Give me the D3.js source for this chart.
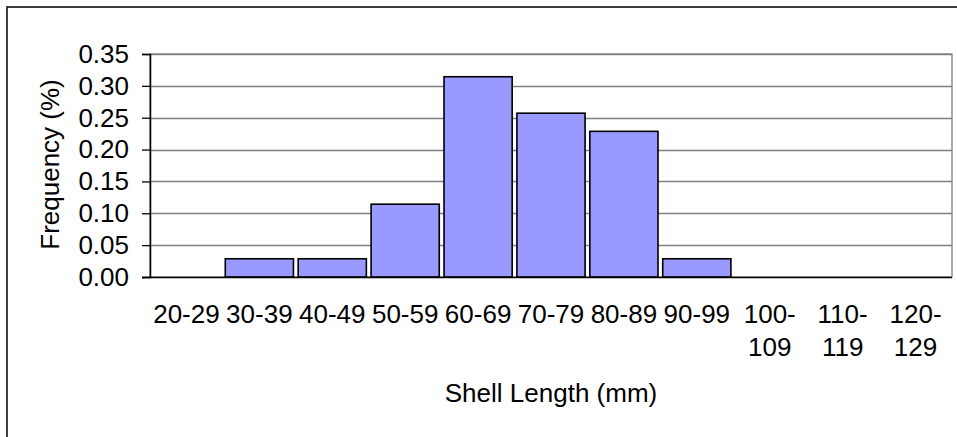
<!DOCTYPE html>
<html>
<head>
<meta charset="utf-8">
<script src="https://cdn.jsdelivr.net/npm/d3@7"></script>
<style>
  html, body { margin: 0; padding: 0; background: #fff; }
  svg { display: block; }
  text { font-family: "Liberation Sans", Arial, sans-serif; fill: #000; }
</style>
</head>
<body>
<script>
// Shell length classes (mm) and the share of shells in each class
const categories = ["20-29", "30-39", "40-49", "50-59", "60-69", "70-79", "80-89", "90-99", "100-109", "110-119", "120-129"];
const frequency  = [0, 0.0286, 0.0286, 0.1143, 0.3143, 0.2571, 0.2286, 0.0286, 0, 0, 0];
const yTicks     = [0, 0.05, 0.10, 0.15, 0.20, 0.25, 0.30, 0.35];
const xTitle = "Shell Length (mm)";
const yTitle = "Frequency (%)";

const W = 957, H = 437;
const plot = { left: 150, right: 952, top: 54, bottom: 277 };
const FONT = "Liberation Sans, Arial, sans-serif";

const svg = d3.select("body").append("svg")
  .attr("width", W).attr("height", H);

// chart frame (runs off the right and bottom edges)
svg.append("rect")
  .attr("x", 7).attr("y", 7)
  .attr("width", W + 20).attr("height", H + 20)
  .attr("fill", "#fff").attr("stroke", "#000").attr("stroke-width", 1.5);

const x = d3.scaleBand()
  .domain(categories)
  .range([plot.left, plot.right])
  .paddingInner(0.065)
  .paddingOuter(0.0325);

const y = d3.scaleLinear()
  .domain([0, 0.35])
  .range([plot.bottom, plot.top]);

// plot area border
svg.append("rect")
  .attr("x", plot.left).attr("y", plot.top)
  .attr("width", plot.right - plot.left).attr("height", plot.bottom - plot.top)
  .attr("fill", "none").attr("stroke", "#808080").attr("stroke-width", 1.3);

// horizontal gridlines
svg.append("g").selectAll("line")
  .data(yTicks.filter(d => d > 0))
  .join("line")
  .attr("x1", plot.left).attr("x2", plot.right)
  .attr("y1", d => Math.round(y(d)) + 0.5).attr("y2", d => Math.round(y(d)) + 0.5)
  .attr("stroke", "#808080").attr("stroke-width", 1.3);

// bars
svg.append("g").selectAll("rect")
  .data(categories.map((c, i) => ({ c, v: frequency[i] })).filter(d => d.v > 0))
  .join("rect")
  .attr("x", d => x(d.c))
  .attr("y", d => y(d.v))
  .attr("width", x.bandwidth())
  .attr("height", d => y(0) - y(d.v))
  .attr("fill", "#9999FF")
  .attr("stroke", "#000")
  .attr("stroke-width", 1.6);

// y axis
const yAxis = svg.append("g")
  .attr("transform", `translate(${plot.left},0)`)
  .call(d3.axisLeft(y).tickValues(yTicks).tickFormat(d3.format(".2f")).tickSize(8).tickPadding(13));
yAxis.select(".domain").attr("stroke", "#000").attr("stroke-width", 1.5);
yAxis.selectAll(".tick line").attr("stroke", "#000").attr("stroke-width", 1.3);
yAxis.selectAll(".tick text")
  .attr("font-size", 26)
  .attr("font-family", FONT)
  .attr("fill", "#000");

// x axis
const xAxis = svg.append("g")
  .attr("transform", `translate(0,${plot.bottom})`)
  .call(d3.axisBottom(x).tickSize(0).tickPadding(0).tickFormat(""));
xAxis.select(".domain").attr("stroke", "#000").attr("stroke-width", 1.5)
  .attr("d", `M${plot.left - 8},0.5H${plot.right}`);

// long class names wrap after the hyphen
xAxis.selectAll(".tick").each(function (d) {
  const cut = d.indexOf("-") + 1;
  const lines = d.length > 5 ? [d.slice(0, cut), d.slice(cut)] : [d];
  const t = d3.select(this).select("text")
    .attr("font-size", 26)
    .attr("font-family", FONT)
    .attr("fill", "#000")
    .attr("dy", null)
    .attr("y", 0)
    .text(null);
  lines.forEach((s, i) => {
    t.append("tspan").attr("x", 0).attr("y", 46 + i * 33.3).text(s);
  });
});

// axis titles
svg.append("text")
  .attr("x", (plot.left + plot.right) / 2)
  .attr("y", 401.5)
  .attr("text-anchor", "middle")
  .attr("font-size", 26)
  .text(xTitle);

svg.append("text")
  .attr("transform", `translate(59,${(plot.top + plot.bottom) / 2 - 1}) rotate(-90)`)
  .attr("text-anchor", "middle")
  .attr("font-size", 26)
  .text(yTitle);
</script>
</body>
</html>
